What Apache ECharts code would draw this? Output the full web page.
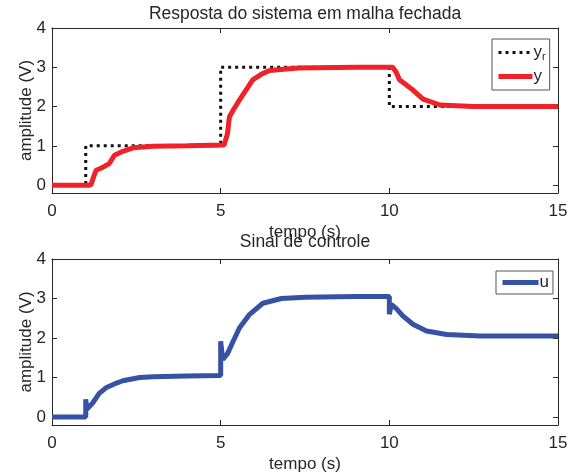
<!DOCTYPE html>
<html>
<head>
<meta charset="utf-8">
<script src="https://cdn.jsdelivr.net/npm/echarts@6/dist/echarts.min.js"></script>
<style>
  html, body { margin: 0; padding: 0; background: #fff; }
  #chart { width: 574px; height: 476px; }
</style>
</head>
<body>
<div id="chart"></div>
<script>
// reference signal y_r (step)
var refTime  = [0, 1, 5, 10, 15];
var refValue = [0, 1, 3, 2, 2];

// system output y
var outTime  = [0, 1.1, 1.16, 1.25, 1.31, 1.5, 1.7, 1.85, 2.1, 2.4, 3, 4, 5.1, 5.2, 5.26, 5.4, 5.56, 5.95, 6.2, 6.45, 7.3, 9, 10.1, 10.2, 10.3, 10.7, 11.0, 11.5, 12.5, 15];
var outValue = [0, 0, 0.02, 0.25, 0.38, 0.45, 0.55, 0.76, 0.86, 0.95, 0.99, 1.0, 1.02, 1.3, 1.74, 1.95, 2.17, 2.68, 2.82, 2.92, 2.98, 3.0, 3.0, 2.88, 2.68, 2.42, 2.19, 2.04, 2.0, 2.0];

// control signal u
var ctrlTime  = [0, 1.0, 1.0, 1.03, 1.2, 1.4, 1.6, 1.85, 2.1, 2.6, 3.0, 4.0, 5.0, 5.0, 5.06, 5.2, 5.36, 5.56, 5.86, 6.25, 6.8, 7.5, 9.0, 10.0, 10.0, 10.06, 10.2, 10.4, 10.7, 11.1, 11.7, 12.7, 15];
var ctrlValue = [0, 0, 0.45, 0.2, 0.35, 0.6, 0.74, 0.84, 0.92, 1.0, 1.02, 1.04, 1.05, 1.92, 1.46, 1.6, 1.9, 2.26, 2.6, 2.88, 3.0, 3.03, 3.05, 3.05, 2.6, 2.85, 2.75, 2.56, 2.35, 2.18, 2.09, 2.05, 2.05];

var yTicks = [0, 1, 2, 3, 4];

function pairs(t, v) {
  return t.map(function (x, i) { return [x, v[i]]; });
}

var font = 'Liberation Sans, Arial, sans-serif';
var ink = '#262626';

function xAx(grid, pos) {
  var main = pos === 'bottom';
  return {
    type: 'value', gridIndex: grid, position: pos,
    min: 0, max: 15, interval: 5,
    name: main ? 'tempo (s)' : '', nameLocation: 'middle', nameGap: 31, nameMoveOverlap: false,
    nameTextStyle: { fontFamily: font, fontSize: 17, color: ink },
    axisLine: { show: true, onZero: false, lineStyle: { color: ink, width: 1 } },
    axisTick: { show: true, inside: true, length: 5, lineStyle: { color: ink } },
    axisLabel: { show: main, fontFamily: font, fontSize: 17, color: ink, margin: 10 },
    splitLine: { show: false }
  };
}
function yAx(grid, pos) {
  var main = pos === 'left';
  return {
    type: 'value', gridIndex: grid, position: pos,
    min: -0.2, max: 4,
    name: main ? 'amplitude (V)' : '', nameLocation: 'middle', nameGap: 17, nameMoveOverlap: false,
    nameTextStyle: { fontFamily: font, fontSize: 17, color: ink },
    axisLine: { show: true, onZero: false, lineStyle: { color: ink, width: 1 } },
    axisTick: { show: true, inside: true, length: 5, customValues: yTicks, lineStyle: { color: ink } },
    axisLabel: { show: main, customValues: yTicks, fontFamily: font, fontSize: 17, color: ink, margin: 6 },
    splitLine: { show: false }
  };
}

var chart = echarts.init(document.getElementById('chart'));
chart.setOption({
  animation: false,
  backgroundColor: '#fff',
  title: [
    { text: 'Resposta do sistema em malha fechada', left: 305, top: 5, padding: 0, textAlign: 'center',
      textStyle: { fontFamily: font, fontSize: 17.5, fontWeight: 'normal', color: ink } },
    { text: 'Sinal de controle', left: 305, top: 233, padding: 0, textAlign: 'center',
      textStyle: { fontFamily: font, fontSize: 17.5, fontWeight: 'normal', color: ink } }
  ],
  grid: [
    { left: 52, right: 16, top: 28, height: 165 },
    { left: 52, right: 16, top: 259, height: 166 }
  ],
  xAxis: [xAx(0, 'bottom'), xAx(0, 'top'), xAx(1, 'bottom'), xAx(1, 'top')],
  yAxis: [yAx(0, 'left'), yAx(0, 'right'), yAx(1, 'left'), yAx(1, 'right')],
  legend: [
    { data: [
        { name: 'yr', lineStyle: { width: 3, type: [3, 4], color: '#111' } },
        { name: 'y', lineStyle: { width: 5, color: '#ee2228' } }
      ],
      orient: 'vertical', left: 492, top: 39, padding: [5, 4, 5, 4], itemGap: 6,
      itemWidth: 34, itemHeight: 14, borderColor: '#555', borderWidth: 1, backgroundColor: '#fff',
      itemStyle: { opacity: 0 },
      textStyle: { fontFamily: font, fontSize: 17, color: ink, padding: [0, 0, 0, -4],
        rich: { sub: { fontSize: 11, fontFamily: font, color: ink, verticalAlign: 'bottom', padding: [8, 0, 0, 0] } } },
      formatter: function (n) { return n === 'yr' ? 'y{sub|r}' : n; } },
    { data: [{ name: 'u', lineStyle: { width: 5, color: '#3652a4' } }],
      orient: 'vertical', left: 496, top: 271, padding: [3, 4, 3, 4],
      itemWidth: 36, itemHeight: 14, borderColor: '#555', borderWidth: 1, backgroundColor: '#fff',
      itemStyle: { opacity: 0 },
      textStyle: { fontFamily: font, fontSize: 17, color: ink, padding: [0, 0, 0, -4] } }
  ],
  series: [
    { name: 'yr', type: 'line', xAxisIndex: 0, yAxisIndex: 0, step: 'end', symbol: 'none',
      data: pairs(refTime, refValue), lineStyle: { color: '#111', width: 3, type: [3, 4] }, itemStyle: { color: '#111' } },
    { name: 'y', type: 'line', xAxisIndex: 0, yAxisIndex: 0, symbol: 'none',
      data: pairs(outTime, outValue), lineStyle: { color: '#ee2228', width: 5 }, itemStyle: { color: '#ee2228' } },
    { name: 'u', type: 'line', xAxisIndex: 2, yAxisIndex: 2, symbol: 'none',
      data: pairs(ctrlTime, ctrlValue), lineStyle: { color: '#3652a4', width: 5 }, itemStyle: { color: '#3652a4' } }
  ]
});
</script>
</body>
</html>
